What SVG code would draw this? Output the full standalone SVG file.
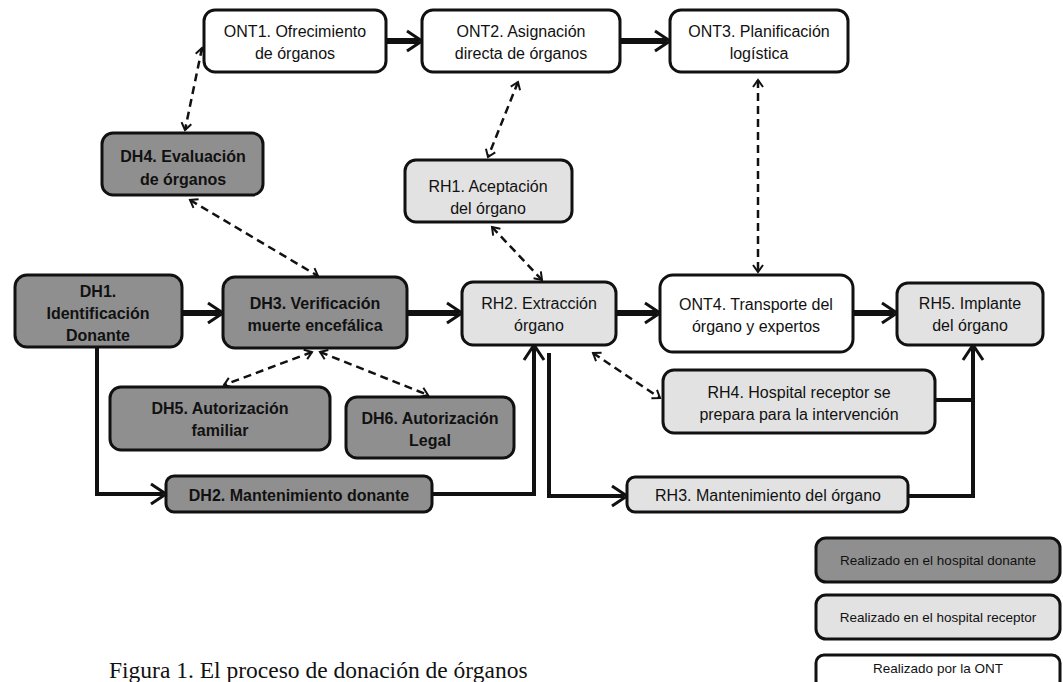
<svg xmlns="http://www.w3.org/2000/svg" width="1063" height="682" viewBox="0 0 1063 682">
<style>
.box{stroke:#111;stroke-width:3}
.dh{fill:#8f8f8f}
.rh{fill:#e2e2e2}
.ont{fill:#fff}
text{font-family:"Liberation Sans",Arial,sans-serif;font-size:16px;fill:#111;text-anchor:middle}
.b{font-weight:bold}
.leg{font-size:13.5px}
.cap{font-family:"Liberation Serif","Times New Roman",serif;font-size:23.5px;text-anchor:start}
.main{fill:none;stroke:#111;stroke-width:6;marker-end:url(#chev)}
.flow{fill:none;stroke:#111;stroke-width:4;marker-end:url(#chev)}
.plain{fill:none;stroke:#111;stroke-width:4}
.dash{fill:none;stroke:#111;stroke-width:2.5;stroke-dasharray:8 5;marker-start:url(#dchev);marker-end:url(#dchev)}
</style>
<defs>
<marker id="chev" markerUnits="userSpaceOnUse" markerWidth="22" markerHeight="26" refX="13" refY="12" orient="auto" overflow="visible">
<path d="M1,2 L16,12 L1,22" fill="none" stroke="#111" stroke-width="3"/>
</marker>
<marker id="dchev" markerUnits="userSpaceOnUse" markerWidth="12" markerHeight="12" refX="8" refY="5" orient="auto-start-reverse" overflow="visible">
<path d="M1,0 L8,5 L1,10" fill="none" stroke="#111" stroke-width="2"/>
</marker>
</defs>

<g id="connectors">
<path class="main" d="M387,41 H419"/>
<path class="main" d="M620,41 H667"/>
<path class="main" d="M182,313 H220"/>
<path class="main" d="M407,313 H459"/>
<path class="main" d="M616,313 H657"/>
<path class="main" d="M853,313 H894"/>
<path class="flow" d="M97,347 V494 H163"/>
<path class="flow" d="M432,494 H534 V348"/>
<path class="flow" d="M549,353 V496 H624"/>
<path class="flow" d="M908,496 H973 V348"/>
<path class="plain" d="M935,400 H973"/>
<path class="dash" d="M202,48 L185,130"/>
<path class="dash" d="M190,200 L318,276"/>
<path class="dash" d="M518,82 L488,157"/>
<path class="dash" d="M492,227 L542,280"/>
<path class="dash" d="M758,80 L758,272"/>
<path class="dash" d="M312,352 L224,385"/>
<path class="dash" d="M320,352 L428,395"/>
<path class="dash" d="M593,353 L660,398"/>
</g>

<g id="ONT1"><rect class="box ont" x="204" y="10" width="182" height="62" rx="11"/><text x="295" y="37">ONT1. Ofrecimiento</text><text x="295" y="59">de órganos</text></g>
<g id="ONT2"><rect class="box ont" x="422" y="10" width="198" height="62" rx="11"/><text x="521" y="37">ONT2. Asignación</text><text x="521" y="59">directa de órganos</text></g>
<g id="ONT3"><rect class="box ont" x="670" y="10" width="178" height="62" rx="11"/><text x="759" y="37">ONT3. Planificación</text><text x="759" y="59">logística</text></g>
<g id="DH4"><rect class="box dh" x="102" y="133" width="161" height="62" rx="11"/><text class="b" x="183" y="162">DH4. Evaluación</text><text class="b" x="183" y="185">de órganos</text></g>
<g id="RH1"><rect class="box rh" x="405" y="160" width="167" height="62" rx="11"/><text x="488" y="192">RH1. Aceptación</text><text x="488" y="214">del órgano</text></g>
<g id="DH1"><rect class="box dh" x="15" y="275" width="167" height="72" rx="12"/><text class="b" x="98" y="297">DH1.</text><text class="b" x="98" y="319">Identificación</text><text class="b" x="98" y="341">Donante</text></g>
<g id="DH3"><rect class="box dh" x="223" y="277" width="184" height="71" rx="12"/><text class="b" x="315" y="309">DH3. Verificación</text><text class="b" x="315" y="331">muerte encefálica</text></g>
<g id="RH2"><rect class="box rh" x="462" y="282" width="154" height="63" rx="11"/><text x="539" y="309">RH2. Extracción</text><text x="539" y="331">órgano</text></g>
<g id="ONT4"><rect class="box ont" x="660" y="275" width="193" height="77" rx="13"/><text x="756" y="310">ONT4. Transporte del</text><text x="756" y="332">órgano y expertos</text></g>
<g id="RH5"><rect class="box rh" x="897" y="283" width="146" height="62" rx="11"/><text x="970" y="309">RH5. Implante</text><text x="970" y="331">del órgano</text></g>
<g id="DH5"><rect class="box dh" x="110" y="387" width="220" height="63" rx="11"/><text class="b" x="220" y="414">DH5. Autorización</text><text class="b" x="220" y="436">familiar</text></g>
<g id="DH6"><rect class="box dh" x="346" y="397" width="168" height="61" rx="11"/><text class="b" x="430" y="424">DH6. Autorización</text><text class="b" x="430" y="446">Legal</text></g>
<g id="DH2"><rect class="box dh" x="166" y="476" width="266" height="36" rx="8"/><text class="b" x="299" y="501">DH2. Mantenimiento donante</text></g>
<g id="RH4"><rect class="box rh" x="663" y="370" width="272" height="63" rx="11"/><text x="799" y="398">RH4. Hospital receptor se</text><text x="799" y="420">prepara para la intervención</text></g>
<g id="RH3"><rect class="box rh" x="627" y="477" width="281" height="35" rx="8"/><text x="768" y="501">RH3. Mantenimiento del órgano</text></g>

<g id="legend">
<rect class="box dh" x="816" y="538" width="244" height="44" rx="10"/><text class="leg" x="938" y="565">Realizado en el hospital donante</text>
<rect class="box rh" x="816" y="595" width="244" height="44" rx="10"/><text class="leg" x="938" y="622">Realizado en el hospital receptor</text>
<rect class="box ont" x="816" y="655" width="244" height="34" rx="8"/><text class="leg" x="938" y="673">Realizado por la ONT</text>
</g>
<text class="cap" x="109" y="678">Figura 1. El proceso de donación de órganos</text>
</svg>
